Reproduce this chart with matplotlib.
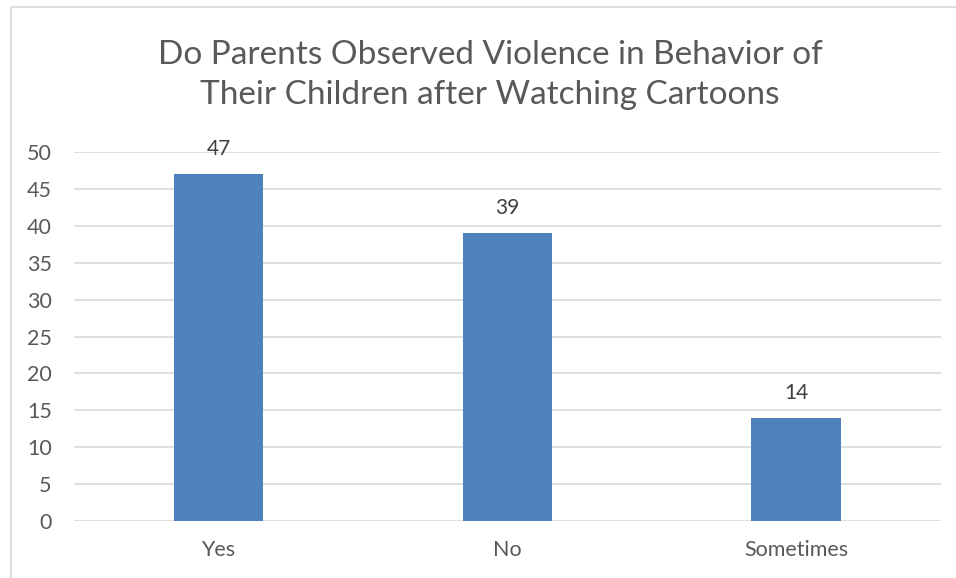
import matplotlib.pyplot as plt
from matplotlib.patches import Rectangle

categories = ["Yes", "No", "Sometimes"]
values = [47, 39, 14]
yticks = [0, 5, 10, 15, 20, 25, 30, 35, 40, 45, 50]

plt.rcParams['font.family'] = ['Lato', 'DejaVu Sans']

fig = plt.figure(figsize=(9.56, 5.78), dpi=100)
ax = fig.add_axes([0.0774, 0.0986, 0.9066, 0.6384])

# chart frame
fig.patches.append(Rectangle((11 / 956, -0.01), 0.99, 1 - 7 / 578 + 0.01,
                             transform=fig.transFigure, fill=False,
                             edgecolor="#d9d9d9", linewidth=1.2))

x = range(len(categories))
ax.bar(x, values, width=0.31, color="#4f81bd", zorder=3)
for xi, v in zip(x, values):
    ax.text(xi, v + 2.0, str(v), ha="center", va="bottom",
            fontsize=15, color="#404040")

ax.set_xlim(-0.5, 2.5)
ax.set_ylim(0, 50)
ax.set_yticks(yticks)
ax.set_xticks(list(x))
ax.set_xticklabels(categories)
ax.yaxis.grid(True, color="#d9d9d9", linewidth=1.2, zorder=0)
ax.set_axisbelow(True)
for s in ax.spines.values():
    s.set_visible(False)
ax.tick_params(axis="both", length=0, labelsize=15.5, labelcolor="#595959")
ax.tick_params(axis="y", pad=16)
ax.tick_params(axis="x", pad=14)

fig.text(490 / 956, 1 - 75 / 578,
         "Do Parents Observed Violence in Behavior of\nTheir Children after Watching Cartoons",
         ha="center", va="center", fontsize=24, color="#595959", linespacing=1.45)

fig.savefig("out.png", dpi=100)
